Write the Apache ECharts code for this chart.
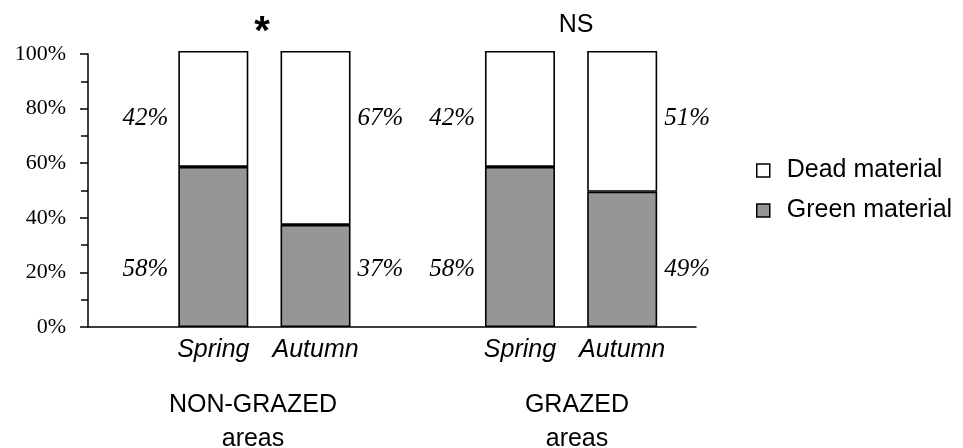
<!DOCTYPE html>
<html>
<head>
<meta charset="utf-8">
<script src="https://cdn.jsdelivr.net/npm/echarts@6/dist/echarts.min.js"></script>
<style>
html,body{margin:0;padding:0;background:#fff;}
#chart{width:963px;height:448px;}
</style>
</head>
<body>
<div id="chart"></div>
<script>
// ---- data ----
var seasons = ['Spring', 'Autumn', 'Spring', 'Autumn'];
var groupNames = ['NON-GRAZED\nareas', 'GRAZED\nareas'];
var significance = ['*', 'NS'];
var greenValues = [58, 37, 58, 49];
var deadValues = [42, 63, 42, 51];
var greenLabels = ['58%', '37%', '58%', '49%'];
var deadLabels = ['42%', '67%', '42%', '51%'];
var seriesNames = ['Dead material', 'Green material'];

// ---- layout constants ----
var SANS = "'Liberation Sans', Arial, Helvetica, sans-serif";
var SERIF = "'Liberation Serif', 'Times New Roman', serif";
var DEAD_LABEL_Y = 75.4;
var GREEN_LABEL_Y = 20.7;

// category slots with an empty gap between the two groups
var cats = [seasons[0], seasons[1], '', seasons[2], seasons[3]];
var slotIdx = [0, 1, 3, 4];
function withGap(arr) { return [arr[0], arr[1], '-', arr[2], arr[3]]; }

function labelPoints(texts, y) {
  return texts.map(function (t, i) {
    var isSpring = (i % 2 === 0);
    return {
      value: [slotIdx[i], y],
      label: {
        show: true,
        formatter: t,
        color: '#000',
        opacity: 1,
        position: isSpring ? 'left' : 'right',
        distance: isSpring ? 45 : 42
      }
    };
  });
}

var labelSeriesBase = {
  type: 'scatter', xAxisIndex: 1, yAxisIndex: 1, symbolSize: 0, silent: true,
  itemStyle: {color: '#000', opacity: 1},
  label: {color: '#000', opacity: 1, fontFamily: SERIF, fontStyle: 'italic', fontSize: 25},
  emphasis: {disabled: true}
};

var chart = echarts.init(document.getElementById('chart'), null, {renderer: 'canvas'});
var option = {
  backgroundColor: '#fff',
  animation: false,
  grid: [
    {left: 88, right: 267, top: 54, bottom: 121},
    {left: 162.2, right: 289.7, top: 51, bottom: 121}
  ],
  xAxis: [
    {gridIndex: 0, type: 'value', min: 0, max: 1,
     axisLine: {show: true, lineStyle: {color: '#000', width: 1.5}},
     axisTick: {show: false}, axisLabel: {show: false}, splitLine: {show: false}},
    {gridIndex: 1, type: 'category', data: cats,
     axisLine: {show: false}, axisTick: {show: false}, splitLine: {show: false},
     axisLabel: {color: '#000', fontFamily: SANS, fontStyle: 'italic', fontSize: 25, margin: 11, interval: 0}}
  ],
  yAxis: [
    {gridIndex: 0, type: 'value', min: 0, max: 100, interval: 20,
     axisLine: {show: true, lineStyle: {color: '#000', width: 1.5}},
     axisTick: {show: true, inside: false, length: 8, lineStyle: {color: '#000', width: 1.5}},
     minorTick: {show: true, splitNumber: 2, length: 7, lineStyle: {color: '#000', width: 1.5}},
     splitLine: {show: false},
     axisLabel: {color: '#000', fontFamily: SERIF, fontSize: 22, margin: 22,
                 formatter: '{value}%', padding: [13, 0, 0, 0]}},
    {gridIndex: 1, type: 'value', min: 0, max: 100, show: false}
  ],
  legend: {
    orient: 'vertical',
    left: 751, top: 153,
    itemWidth: 13, itemHeight: 13, itemGap: 15,
    data: [seriesNames[0], seriesNames[1]],
    icon: 'rect',
    itemStyle: {borderWidth: 1.5, borderColor: '#000'},
    textStyle: {color: '#000', fontFamily: SANS, fontSize: 25, padding: [0, 0, 0, 12]}
  },
  series: [
    {name: seriesNames[1], type: 'bar', xAxisIndex: 1, yAxisIndex: 1, stack: 'total',
     barWidth: 70, data: withGap(greenValues),
     itemStyle: {color: '#969696', borderColor: '#000', borderWidth: 1.6}},
    {name: seriesNames[0], type: 'bar', xAxisIndex: 1, yAxisIndex: 1, stack: 'total',
     barWidth: 70, data: withGap(deadValues),
     itemStyle: {color: '#fff', borderColor: '#000', borderWidth: 1.6}},
    Object.assign({}, labelSeriesBase, {data: labelPoints(deadLabels, DEAD_LABEL_Y)}),
    Object.assign({}, labelSeriesBase, {data: labelPoints(greenLabels, GREEN_LABEL_Y)})
  ],
  graphic: [
    {type: 'text', x: 262, y: 33, style: {text: significance[0], fill: '#000',
      font: 'bold 40px ' + SANS, textAlign: 'center', textVerticalAlign: 'middle'}},
    {type: 'text', x: 576, y: 25, style: {text: significance[1], fill: '#000',
      font: '25px ' + SANS, textAlign: 'center', textVerticalAlign: 'middle'}},
    {type: 'text', x: 253, y: 422, style: {text: groupNames[0], fill: '#000',
      font: '25px ' + SANS, textAlign: 'center', textVerticalAlign: 'middle', lineHeight: 34}},
    {type: 'text', x: 577, y: 422, style: {text: groupNames[1], fill: '#000',
      font: '25px ' + SANS, textAlign: 'center', textVerticalAlign: 'middle', lineHeight: 34}}
  ]
};
chart.setOption(option);
</script>
</body>
</html>
